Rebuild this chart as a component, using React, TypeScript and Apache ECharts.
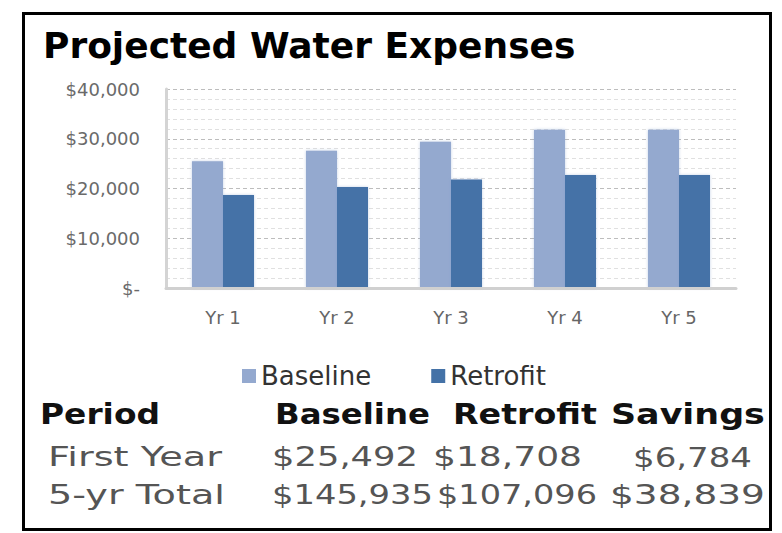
import React, { useEffect, useRef } from "react";
import * as echarts from "echarts";

const titleText = "Projected Water Expenses";
const categories = ["Yr 1", "Yr 2", "Yr 3", "Yr 4", "Yr 5"];
const seriesNames = ["Baseline", "Retrofit"];
const baseline = [25492, 27600, 29400, 31800, 31800];
const retrofit = [18708, 20300, 21800, 22700, 22700];
const yMin = 0;
const yMax = 40000;
const yInterval = 10000;

const tableHeader = ["Period", "Baseline", "Retrofit", "Savings"];
const rowFirstYear = ["First Year", "$25,492", "$18,708", "$6,784"];
const rowFiveYear = ["5-yr Total", "$145,935", "$107,096", "$38,839"];

// layout only: [left x, target width] per cell, and row center y
const headerLayout = [[40, 120], [275, 155], [453, 144], [611, 154]];
const row1Layout = [[48, 174], [272, 146], [433, 149], [633, 119]];
const row2Layout = [[48, 177], [272, 161], [437, 160], [610, 155]];

const FONT = "DejaVu Sans";

function measure(text: string, font: string): number {
  const c = document.createElement("canvas");
  const ctx = c.getContext("2d");
  if (!ctx) return text.length * 10;
  ctx.font = font;
  return ctx.measureText(text).width;
}

function rowGraphics(
  cells: string[],
  layout: number[][],
  y: number,
  size: number,
  weight: string,
  color: string
) {
  return cells.map((t, i) => {
    const w = measure(t, `${weight} ${size}px "${FONT}"`);
    const sx = layout[i][1] / w;
    return {
      type: "text",
      x: layout[i][0],
      y,
      scaleX: sx,
      silent: true,
      style: {
        text: t,
        fontFamily: FONT,
        fontSize: size,
        fontWeight: weight,
        fill: color,
        align: "left",
        verticalAlign: "middle",
      },
    };
  });
}

export default function App() {
  const ref = useRef<HTMLDivElement>(null);
  useEffect(() => {
    document.body.style.margin = "0";
    if (!ref.current) return;
    const chart = echarts.init(ref.current, undefined, { renderer: "svg" });
    const fmt = (v: number) =>
      v === 0 ? "$-" : "$" + v.toLocaleString("en-US");
    chart.setOption({
      animation: false,
      backgroundColor: "#ffffff",
      title: {
        text: titleText,
        left: 38,
        top: 22,
        textStyle: {
          fontFamily: FONT,
          fontWeight: "bold",
          fontSize: 36,
          color: "#000",
        },
      },
      legend: {
        data: seriesNames,
        left: 237,
        top: 358,
        icon: "rect",
        itemWidth: 14,
        itemHeight: 14,
        itemGap: 60,
        textStyle: { fontFamily: FONT, fontSize: 26, color: "#333" },
      },
      grid: { left: 166, right: 46, top: 89, bottom: 245 },
      xAxis: {
        type: "category",
        data: categories,
        axisLine: { show: true, lineStyle: { color: "#d0d0d0", width: 3 } },
        axisTick: { show: false },
        axisLabel: { fontFamily: FONT, fontSize: 18, color: "#666", margin: 20 },
        z: 5,
      },
      yAxis: {
        type: "value",
        min: yMin,
        max: yMax,
        interval: yInterval,
        axisLine: { show: true, lineStyle: { color: "#d4d4d4", width: 3 } },
        axisTick: { show: false },
        axisLabel: {
          fontFamily: FONT,
          fontSize: 18,
          color: "#6a6a6a",
          margin: 26,
          formatter: fmt,
        },
        splitLine: { show: true, lineStyle: { type: [4, 3], color: "#bdbdbd", width: 1 } },
        minorTick: { show: false, splitNumber: 5 },
        minorSplitLine: {
          show: true,
          lineStyle: { type: [4, 3], color: "#e0e0e0", width: 1 },
        },
      },
      series: [
        {
          name: seriesNames[0],
          type: "bar",
          data: baseline,
          barWidth: 31,
          barGap: "0%",
          itemStyle: {
            color: "#94a9cf",
            shadowBlur: 3,
            shadowColor: "rgba(120,150,200,0.45)",
          },
        },
        {
          name: seriesNames[1],
          type: "bar",
          data: retrofit,
          barWidth: 31,
          barGap: "0%",
          itemStyle: {
            color: "#4472a7",
            shadowBlur: 3,
            shadowColor: "rgba(120,150,200,0.45)",
          },
        },
      ],
      graphic: [
        {
          type: "rect",
          shape: { x: 23.5, y: 13.5, width: 747, height: 516 },
          style: { fill: "none", stroke: "#000", lineWidth: 3 },
          silent: true,
          z: 100,
        },
        ...rowGraphics(tableHeader, headerLayout, 414, 29, "bold", "#111"),
        ...rowGraphics(rowFirstYear, row1Layout, 457, 27, "normal", "#555"),
        ...rowGraphics(rowFiveYear, row2Layout, 495, 27, "normal", "#555"),
      ],
    });
    return () => chart.dispose();
  }, []);
  return <div ref={ref} style={{ width: 782, height: 533 }} />;
}
